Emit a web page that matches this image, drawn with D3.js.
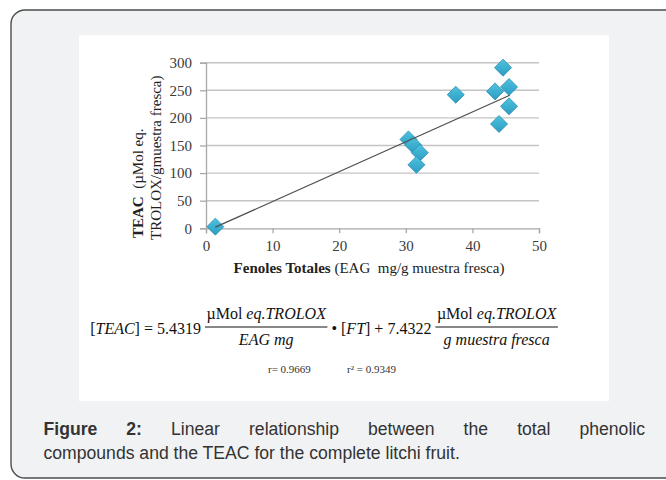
<!DOCTYPE html>
<html>
<head>
<meta charset="utf-8">
<script src="https://cdn.jsdelivr.net/npm/d3@7/dist/d3.min.js"></script>
<style>
  html, body { margin: 0; padding: 0; background: #ffffff; }
  svg { display: block; }
  text { white-space: pre; }
</style>
</head>
<body>
<svg id="chart" width="666" height="480"></svg>
<script>
// ---- data ----
const fenoles = [1.4, 30.4, 31.1, 32.1, 31.6, 37.5, 43.4, 44.6, 45.5, 45.5, 44.0];
const teac    = [3, 161, 151, 137, 115, 242, 248, 291, 256, 221, 189];
const trendX  = [1.4, 45.6];
const trendY  = [2, 241];
const xTicks  = [0, 10, 20, 30, 40, 50];
const yTicks  = [0, 50, 100, 150, 200, 250, 300];

const svg = d3.select("#chart");

// outer panel
svg.append("rect").attr("x", 11).attr("y", 10).attr("width", 720).attr("height", 468)
  .attr("rx", 14).attr("ry", 14)
  .attr("fill", "#f1f2f4").attr("stroke", "#4d4d4d").attr("stroke-width", 1.4);

// white figure image
svg.append("rect").attr("x", 79).attr("y", 35).attr("width", 530).attr("height", 366)
  .attr("fill", "#ffffff");

const x = d3.scaleLinear().domain([0, 50]).range([206, 539]);
const y = d3.scaleLinear().domain([0, 300]).range([228.3, 62.7]);

const serif = "'Liberation Serif', 'Times New Roman', serif";

// gridlines
svg.append("g").selectAll("line").data(yTicks.filter(d => d > 0)).join("line")
  .attr("x1", x(0)).attr("x2", x(50))
  .attr("y1", d => y(d)).attr("y2", d => y(d))
  .attr("stroke", "#c4c4c4").attr("stroke-width", 1.4);

// y axis
const yAxis = svg.append("g").attr("transform", `translate(${x(0)},0)`)
  .call(d3.axisLeft(y).tickValues(yTicks).tickSize(6).tickPadding(8));
yAxis.select(".domain").attr("stroke", "#a8a8a8").attr("stroke-width", 1.3);
yAxis.selectAll(".tick line").attr("stroke", "#a8a8a8").attr("stroke-width", 1.3);
yAxis.selectAll(".tick text").attr("font-family", serif).attr("font-size", 15)
  .attr("fill", "#3a3a3a");

// x axis
const xAxis = svg.append("g").attr("transform", `translate(0,${y(0)})`)
  .call(d3.axisBottom(x).tickValues(xTicks).tickSize(5).tickPadding(7));
xAxis.select(".domain").attr("stroke", "#a8a8a8").attr("stroke-width", 1.3);
xAxis.selectAll(".tick line").attr("stroke", "#a8a8a8").attr("stroke-width", 1.3);
xAxis.selectAll(".tick text").attr("font-family", serif).attr("font-size", 15)
  .attr("fill", "#3a3a3a");

// points (diamonds)
const defs = svg.append("defs");
const grad = defs.append("linearGradient").attr("id", "dg").attr("x1", 0).attr("y1", 0).attr("x2", 0).attr("y2", 1);
grad.append("stop").attr("offset", "0%").attr("stop-color", "#4ec3de");
grad.append("stop").attr("offset", "100%").attr("stop-color", "#2c9cc3");

const diamond = d3.symbol().type(d3.symbolDiamond2).size(185);
svg.append("g").selectAll("path").data(fenoles.map((f, i) => [f, teac[i]])).join("path")
  .attr("d", diamond)
  .attr("transform", d => `translate(${x(d[0])},${y(d[1])})`)
  .attr("fill", "url(#dg)").attr("stroke", "#2c8fb3").attr("stroke-width", 0.8);

// trend line
svg.append("line")
  .attr("x1", x(trendX[0])).attr("y1", y(trendY[0]))
  .attr("x2", x(trendX[1])).attr("y2", y(trendY[1]))
  .attr("stroke", "#505050").attr("stroke-width", 1.3);

// x axis title
const xt = svg.append("text").attr("x", 369).attr("y", 273).attr("text-anchor", "middle")
  .attr("font-family", serif).attr("font-size", 15).attr("fill", "#222");
xt.append("tspan").attr("font-weight", "bold").text("Fenoles Totales");
xt.append("tspan").text(" (EAG  mg/g muestra fresca)");

// y axis title (two lines)
const yt1 = svg.append("text").attr("transform", "translate(143,238) rotate(-90)")
  .attr("font-family", serif).attr("font-size", 15).attr("fill", "#222");
yt1.append("tspan").attr("font-weight", "bold").text("TEAC");
yt1.append("tspan").text("  (µMol eq.");
svg.append("text").attr("transform", "translate(161,240) rotate(-90)")
  .attr("font-family", serif).attr("font-size", 15).attr("fill", "#222")
  .text("TROLOX/gmuestra fresca)");

// ---- equation ----
const eqG = svg.append("g");
const eqFont = 16;
const baseY = 334;
let cx = 0;
function piece(parts) {
  const t = eqG.append("text").attr("x", cx).attr("y", baseY)
    .attr("font-family", serif).attr("font-size", eqFont).attr("fill", "#111");
  parts.forEach(p => t.append("tspan").attr("font-style", p[1] ? "italic" : "normal").text(p[0]));
  cx += t.node().getComputedTextLength();
}
function frac(num, den) {
  const tn = eqG.append("text").attr("y", baseY - 15).attr("text-anchor", "middle")
    .attr("font-family", serif).attr("font-size", eqFont).attr("fill", "#111");
  num.forEach(p => tn.append("tspan").attr("font-style", p[1] ? "italic" : "normal").text(p[0]));
  const td = eqG.append("text").attr("y", baseY + 11).attr("text-anchor", "middle")
    .attr("font-family", serif).attr("font-size", eqFont).attr("fill", "#111");
  den.forEach(p => td.append("tspan").attr("font-style", p[1] ? "italic" : "normal").text(p[0]));
  const w = Math.max(tn.node().getComputedTextLength(), td.node().getComputedTextLength()) + 3;
  tn.attr("x", cx + w / 2); td.attr("x", cx + w / 2);
  eqG.append("line").attr("x1", cx).attr("x2", cx + w).attr("y1", baseY - 7).attr("y2", baseY - 7)
    .attr("stroke", "#111").attr("stroke-width", 1);
  cx += w;
}
piece([["[", false], ["TEAC", true], ["] = 5.4319 ", false]]);
frac([["µMol ", false], ["eq.TROLOX", true]], [["EAG mg", true]]);
piece([[" • [", false], ["FT", true], ["] + 7.4322 ", false]]);
frac([["µMol ", false], ["eq.TROLOX", true]], [["g muestra fresca", true]]);
const eqW = cx;
eqG.attr("transform", `translate(${324 - eqW / 2},0)`);

// r values
svg.append("text").attr("x", 268).attr("y", 373).attr("font-family", serif)
  .attr("font-size", 11).attr("fill", "#333").text("r= 0.9669");
svg.append("text").attr("x", 347).attr("y", 373).attr("font-family", serif)
  .attr("font-size", 11).attr("fill", "#333").text("r² = 0.9349");

// ---- caption ----
const sans = "'Liberation Sans', Arial, sans-serif";
const capSize = 17.6;
const line1 = [["Figure", true], ["2:", true], ["Linear", false], ["relationship", false], ["between", false],
  ["the", false], ["total", false], ["phenolic", false]];
const left = 43.5, right = 645;
const tmp = [];
let total = 0;
line1.forEach(w => {
  const t = svg.append("text").attr("y", 435).attr("font-family", sans).attr("font-size", capSize)
    .attr("font-weight", w[1] ? "bold" : "normal").attr("fill", "#333").text(w[0]);
  const len = t.node().getComputedTextLength();
  tmp.push([t, len]); total += len;
});
const gap = (right - left - total) / (line1.length - 1);
let px = left;
tmp.forEach(([t, len]) => { t.attr("x", px); px += len + gap; });

svg.append("text").attr("x", left).attr("y", 459).attr("font-family", sans).attr("font-size", capSize)
  .attr("fill", "#333").text("compounds and the TEAC for the complete litchi fruit.");
</script>
</body>
</html>
